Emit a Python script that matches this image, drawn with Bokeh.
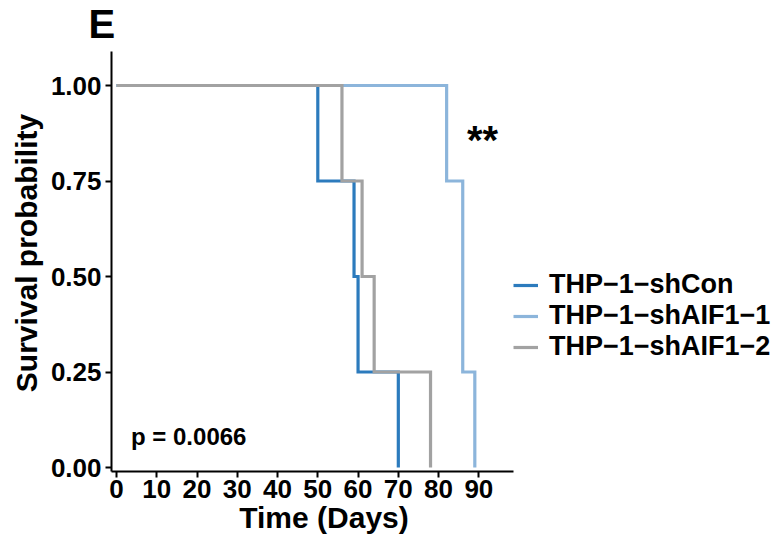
import math
from bokeh.plotting import figure
from bokeh.models import Range1d, FixedTicker, Label, Legend, LegendItem
from bokeh.embed import file_html
from bokeh.resources import INLINE

# ---- data ----
groups = ["THP\u22121\u2212shCon", "THP\u22121\u2212shAIF1\u22121", "THP\u22121\u2212shAIF1\u22122"]
colors = ["#2C7BBD", "#8CB5DB", "#A2A2A2"]
shcon_time = [0, 50, 59, 60, 70]
shcon_surv = [1.0, 0.75, 0.5, 0.25, 0.0]
sh1_time = [0, 82, 86, 89]
sh1_surv = [1.0, 0.75, 0.25, 0.0]
sh2_time = [0, 56, 61, 64, 78]
sh2_surv = [1.0, 0.75, 0.5, 0.25, 0.0]
x_ticks = [0, 10, 20, 30, 40, 50, 60, 70, 80, 90]
y_ticks = [0.0, 0.25, 0.5, 0.75, 1.0]
y_tick_labels = ["0.00", "0.25", "0.50", "0.75", "1.00"]
x_limits = (-1.24, 98.6)
y_limits = (-0.0105, 1.089)
p_text = "p = 0.0066"
sig_text = "**"
panel_letter = "E"
x_title = "Time (Days)"
y_title = "Survival probability"

FONT = "Liberation Sans"
W, H = 783, 541
PX_PER_DAY = 4.026
PX_PER_UNIT = 382.0
X0_PX = 116   # screen x of day 0
Y0_PX = 467   # screen y of survival 0
BASE_FIX = 0.39  # empirical baseline correction (in em)

def dx(sx):
    return (sx - X0_PX) / PX_PER_DAY

def dy(sy):
    return (Y0_PX - sy) / PX_PER_UNIT

p = figure(width=W, height=H, output_backend="svg", toolbar_location=None,
           x_range=Range1d(dx(0), dx(W)), y_range=Range1d(dy(H), dy(0)),
           min_border_left=0, min_border_right=0, min_border_top=0, min_border_bottom=0)
p.xgrid.visible = False
p.ygrid.visible = False
p.outline_line_color = None
p.background_fill_color = "white"

series = [(shcon_time, shcon_surv), (sh1_time, sh1_surv), (sh2_time, sh2_surv)]
renderers = []
for (t, s), c in zip(series, colors):
    r = p.step(t, s, mode="after", line_color=c, line_width=3.2, line_join="miter", line_cap="butt")
    renderers.append(r)

for ax in (p.xaxis[0], p.yaxis[0]):
    ax.axis_line_width = 2
    ax.major_tick_line_width = 2
    ax.major_tick_out = 6
    ax.major_tick_in = 0
    ax.minor_tick_line_color = None
    ax.major_label_text_font = FONT
    ax.major_label_text_font_style = "bold"
    ax.major_label_text_font_size = "26px"
    ax.major_label_text_color = "black"
    ax.axis_line_color = "black"
    ax.major_tick_line_color = "black"

p.xaxis[0].ticker = FixedTicker(ticks=x_ticks)
p.yaxis[0].ticker = FixedTicker(ticks=y_ticks)
p.yaxis[0].major_label_overrides = {t: l for t, l in zip(y_ticks, y_tick_labels)}
p.xaxis[0].fixed_location = y_limits[0]
p.yaxis[0].fixed_location = x_limits[0]
p.xaxis[0].bounds = x_limits
p.yaxis[0].bounds = y_limits
p.xaxis[0].major_label_standoff = 2
p.yaxis[0].major_label_standoff = 4

common = dict(text_font=FONT, text_font_style="bold", text_color="black")

def add_text(sx, sy, text, size, align="left", angle=0.0, rotated=False):
    fix = BASE_FIX * size
    if rotated:
        sx = sx - fix
    else:
        sy = sy - fix
    p.add_layout(Label(x=dx(sx), y=dy(sy), text=text, text_font_size=f"{size}px",
                       angle=angle, text_align=align, text_baseline="alphabetic", **common))

add_text(88, 39, panel_letter, 40)
add_text(38, 252.5, y_title, 30, align="center", angle=math.pi / 2, rotated=True)
add_text(323.5, 528.5, x_title, 30, align="center")
add_text(130.5, 445, p_text, 24)
p.add_layout(Label(x=dx(482), y=dy(139), text=sig_text, text_font_size="40px",
                   text_align="center", text_baseline="middle", **common))

legend = Legend(items=[LegendItem(label=g, renderers=[r]) for g, r in zip(groups, renderers)],
                location=(513, H - 362), padding=0, margin=0, spacing=0,
                glyph_width=25, glyph_height=30, label_height=30, label_standoff=11,
                border_line_color=None, background_fill_alpha=0,
                label_text_font=FONT, label_text_font_style="bold", label_text_font_size="27px",
                label_text_color="black")
p.add_layout(legend, "center")

open("out.html", "w").write(file_html(p, INLINE))
